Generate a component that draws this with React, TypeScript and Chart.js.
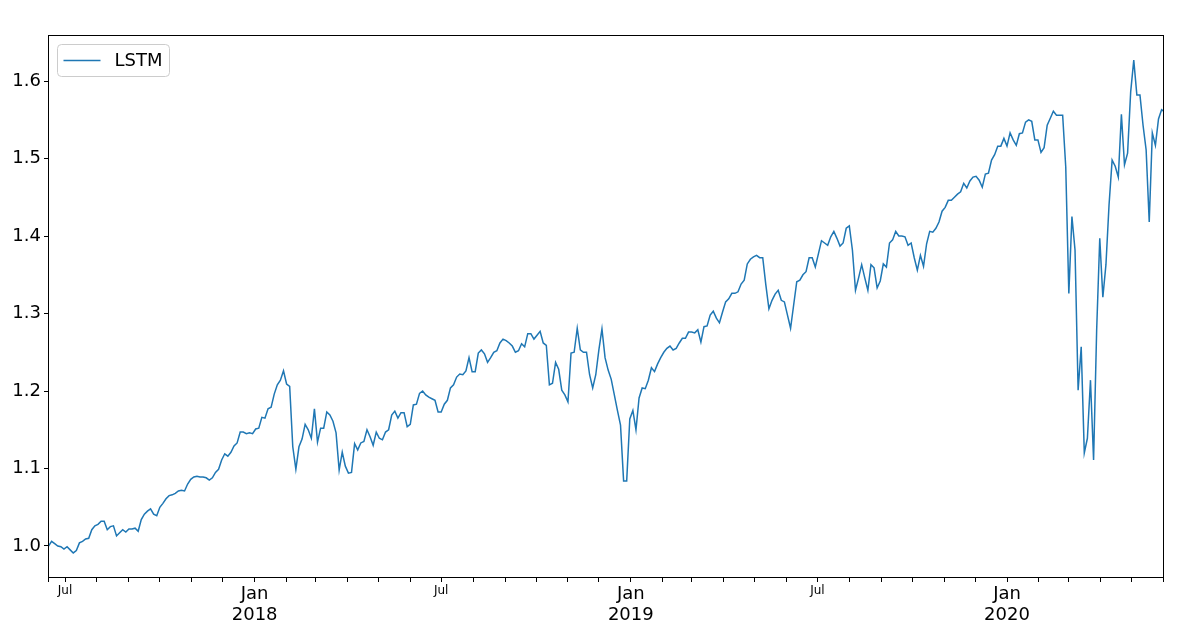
import React, { useEffect, useRef } from 'react';
import { Chart, registerables } from 'chart.js';

Chart.register(...registerables);

const seriesName = 'LSTM';
const startDate = '2017-06-15';
const stepDays = 3;
const axisStart = '2017-06-14T12:00:00Z';
const axisEnd = '2020-06-01T08:00:00Z';
const yTicks = [1.0, 1.1, 1.2, 1.3, 1.4, 1.5, 1.6];
const yMin = 0.9587;
const yMax = 1.6594;
const monthNames = ['Jan', 'Feb', 'Mar', 'Apr', 'May', 'Jun', 'Jul', 'Aug', 'Sep', 'Oct', 'Nov', 'Dec'];

const lstmValues = [
  1.000, 1.006, 1.003, 1.000, 0.999, 0.996, 0.999, 0.995, 0.991, 0.994,
  1.004, 1.006, 1.009, 1.010, 1.021, 1.026, 1.028, 1.032, 1.032, 1.021,
  1.025, 1.026, 1.013, 1.017, 1.021, 1.018, 1.022, 1.022, 1.023, 1.019,
  1.034, 1.041, 1.045, 1.048, 1.041, 1.039, 1.050, 1.055, 1.061, 1.065,
  1.066, 1.068, 1.071, 1.072, 1.071, 1.080, 1.086, 1.089, 1.090, 1.089,
  1.089, 1.088, 1.085, 1.088, 1.095, 1.099, 1.111, 1.119, 1.116, 1.121,
  1.129, 1.133, 1.147, 1.147, 1.145, 1.146, 1.145, 1.151, 1.152, 1.166,
  1.165, 1.177, 1.179, 1.196, 1.208, 1.214, 1.226, 1.209, 1.206, 1.128,
  1.099, 1.128, 1.138, 1.157, 1.150, 1.139, 1.177, 1.134, 1.152, 1.152,
  1.173, 1.169, 1.161, 1.146, 1.098, 1.121, 1.103, 1.094, 1.095, 1.132,
  1.124, 1.133, 1.135, 1.150, 1.141, 1.130, 1.147, 1.139, 1.137, 1.147,
  1.150, 1.169, 1.174, 1.165, 1.172, 1.172, 1.154, 1.157, 1.182, 1.183,
  1.197, 1.200, 1.195, 1.192, 1.190, 1.188, 1.173, 1.173, 1.183, 1.188,
  1.204, 1.208, 1.218, 1.222, 1.221, 1.226, 1.243, 1.225, 1.225, 1.249,
  1.253, 1.248, 1.237, 1.243, 1.250, 1.252, 1.262, 1.267, 1.265, 1.262,
  1.258, 1.250, 1.252, 1.261, 1.257, 1.274, 1.274, 1.267, 1.272, 1.277,
  1.262, 1.259, 1.208, 1.210, 1.237, 1.228, 1.201, 1.195, 1.186, 1.249,
  1.250, 1.281, 1.253, 1.250, 1.250, 1.221, 1.204, 1.221, 1.253, 1.280,
  1.243, 1.227, 1.215, 1.195, 1.175, 1.156, 1.084, 1.084, 1.164, 1.175,
  1.150, 1.191, 1.204, 1.203, 1.214, 1.230, 1.225, 1.235, 1.243, 1.250,
  1.255, 1.258, 1.253, 1.255, 1.262, 1.268, 1.268, 1.276, 1.276, 1.275,
  1.279, 1.263, 1.283, 1.284, 1.298, 1.303, 1.294, 1.288, 1.302, 1.315,
  1.319, 1.326, 1.326, 1.328, 1.338, 1.343, 1.364, 1.370, 1.373, 1.375,
  1.372, 1.372, 1.337, 1.306, 1.317, 1.325, 1.330, 1.317, 1.315, 1.298,
  1.281, 1.311, 1.341, 1.343, 1.350, 1.354, 1.372, 1.372, 1.360, 1.377,
  1.394, 1.391, 1.388, 1.399, 1.406, 1.397, 1.387, 1.391, 1.410, 1.413,
  1.382, 1.330, 1.346, 1.363, 1.346, 1.330, 1.363, 1.359, 1.333, 1.342,
  1.364, 1.360, 1.391, 1.395, 1.406, 1.400, 1.400, 1.399, 1.388, 1.391,
  1.372, 1.356, 1.375, 1.361, 1.390, 1.406, 1.405, 1.410, 1.418, 1.432,
  1.437, 1.446, 1.446, 1.450, 1.454, 1.457, 1.468, 1.462, 1.471, 1.476,
  1.477, 1.472, 1.463, 1.480, 1.481, 1.498, 1.505, 1.516, 1.516, 1.526,
  1.516, 1.533, 1.524, 1.517, 1.532, 1.533, 1.547, 1.550, 1.548, 1.524,
  1.524, 1.508, 1.514, 1.543, 1.552, 1.561, 1.556, 1.556, 1.556, 1.489,
  1.326, 1.425, 1.382, 1.201, 1.257, 1.120, 1.139, 1.214, 1.111, 1.279,
  1.397, 1.321, 1.363, 1.440, 1.498, 1.490, 1.476, 1.557, 1.492, 1.507,
  1.586, 1.627, 1.582, 1.582, 1.543, 1.511, 1.418, 1.533, 1.517, 1.551,
  1.563, 1.560,
];

const FONT = 'DejaVu Sans';
const LINE_COLOR = '#1f77b4';
const DAY = 86400000;

function buildPoints() {
  const t0 = Date.parse(startDate + 'T00:00:00Z');
  return lstmValues.map((v, i) => ({ x: t0 + i * stepDays * DAY, y: v }));
}

function monthTicks(min: number, max: number) {
  const ticks: { value: number; major?: boolean }[] = [{ value: min }];
  const d = new Date(min);
  let y = d.getUTCFullYear();
  let m = d.getUTCMonth() + 1;
  if (m > 11) { m = 0; y++; }
  for (;;) {
    const t = Date.UTC(y, m, 1);
    if (t > max) break;
    ticks.push({ value: t, major: m === 0 });
    m++;
    if (m > 11) { m = 0; y++; }
  }
  return ticks;
}

function monthOf(v: number) {
  const d = new Date(v);
  return d.getUTCDate() === 1 ? d.getUTCMonth() : -1;
}

const framePlugin = {
  id: 'frameAndLegend',
  afterDraw(chart: any) {
    const { ctx, chartArea } = chart;
    ctx.save();
    ctx.strokeStyle = '#000';
    ctx.lineWidth = 1;
    ctx.strokeRect(
      Math.round(chartArea.left) + 0.5,
      Math.round(chartArea.top) + 0.5,
      Math.round(chartArea.right - chartArea.left) - 1,
      Math.round(chartArea.bottom - chartArea.top) - 1
    );
    // legend
    const lx = chartArea.left + 9.5;
    const ly = chartArea.top + 9.5;
    const lw = 112;
    const lh = 32;
    const r = 4;
    ctx.beginPath();
    ctx.moveTo(lx + r, ly);
    ctx.lineTo(lx + lw - r, ly);
    ctx.arcTo(lx + lw, ly, lx + lw, ly + r, r);
    ctx.lineTo(lx + lw, ly + lh - r);
    ctx.arcTo(lx + lw, ly + lh, lx + lw - r, ly + lh, r);
    ctx.lineTo(lx + r, ly + lh);
    ctx.arcTo(lx, ly + lh, lx, ly + lh - r, r);
    ctx.lineTo(lx, ly + r);
    ctx.arcTo(lx, ly, lx + r, ly, r);
    ctx.closePath();
    ctx.fillStyle = 'rgba(255,255,255,0.8)';
    ctx.fill();
    ctx.strokeStyle = '#cccccc';
    ctx.stroke();
    ctx.beginPath();
    ctx.strokeStyle = LINE_COLOR;
    ctx.lineWidth = 1.5;
    ctx.moveTo(lx + 6, ly + 16);
    ctx.lineTo(lx + 43, ly + 16);
    ctx.stroke();
    ctx.fillStyle = '#000';
    ctx.font = `18px "${FONT}"`;
    ctx.textBaseline = 'middle';
    ctx.textAlign = 'left';
    ctx.fillText(seriesName, lx + 57, ly + 16.5);
    ctx.restore();
  },
};

export default function App() {
  const ref = useRef<HTMLCanvasElement | null>(null);

  useEffect(() => {
    document.body.style.margin = '0';
    const tMin = Date.parse(axisStart);
    const tMax = Date.parse(axisEnd);
    const chart = new Chart(ref.current as HTMLCanvasElement, {
      type: 'line',
      data: {
        datasets: [
          {
            label: seriesName,
            data: buildPoints(),
            borderColor: LINE_COLOR,
            borderWidth: 1.5,
            pointRadius: 0,
            fill: false,
            tension: 0,
          },
        ],
      },
      options: {
        animation: false,
        responsive: false,
        devicePixelRatio: 1,
        layout: { padding: { left: 0, top: 35, right: 27, bottom: 0 } },
        plugins: { legend: { display: false }, tooltip: { enabled: false } },
        scales: {
          x: {
            type: 'linear',
            min: tMin,
            max: tMax,
            afterBuildTicks: (s: any) => {
              s.ticks = monthTicks(tMin, tMax);
            },
            afterFit: (s: any) => {
              s.height = 50;
            },
            grid: { drawOnChartArea: false, drawTicks: true, tickLength: 4, color: '#000' },
            border: { display: false },
            ticks: {
              autoSkip: false,
              maxRotation: 0,
              minRotation: 0,
              padding: 2,
              color: '#000',
              font: (ctx: any) => {
                const v = ctx.tick ? ctx.tick.value : 0;
                return { family: FONT, size: monthOf(v) === 0 ? 18 : 12, lineHeight: 1.15 };
              },
              callback: (v: any) => {
                const m = monthOf(Number(v));
                if (m === 0) return ['Jan', String(new Date(Number(v)).getUTCFullYear())];
                if (m === 6) return monthNames[6];
                return '';
              },
            },
          },
          y: {
            type: 'linear',
            min: yMin,
            max: yMax,
            afterBuildTicks: (s: any) => {
              s.ticks = yTicks.map((v) => ({ value: v }));
            },
            afterFit: (s: any) => {
              s.width = 48;
            },
            grid: { drawOnChartArea: false, drawTicks: true, tickLength: 4, color: '#000' },
            border: { display: false },
            ticks: {
              padding: 3,
              color: '#000',
              font: { family: FONT, size: 18 },
              callback: (v: any) => Number(v).toFixed(1),
            },
          },
        },
      },
      plugins: [framePlugin],
    } as any);
    return () => chart.destroy();
  }, []);

  return (
    <div style={{ position: 'absolute', left: 0, top: 0, width: 1191, height: 628, background: '#fff' }}>
      <canvas ref={ref} width={1191} height={628} style={{ display: 'block' }} />
    </div>
  );
}
